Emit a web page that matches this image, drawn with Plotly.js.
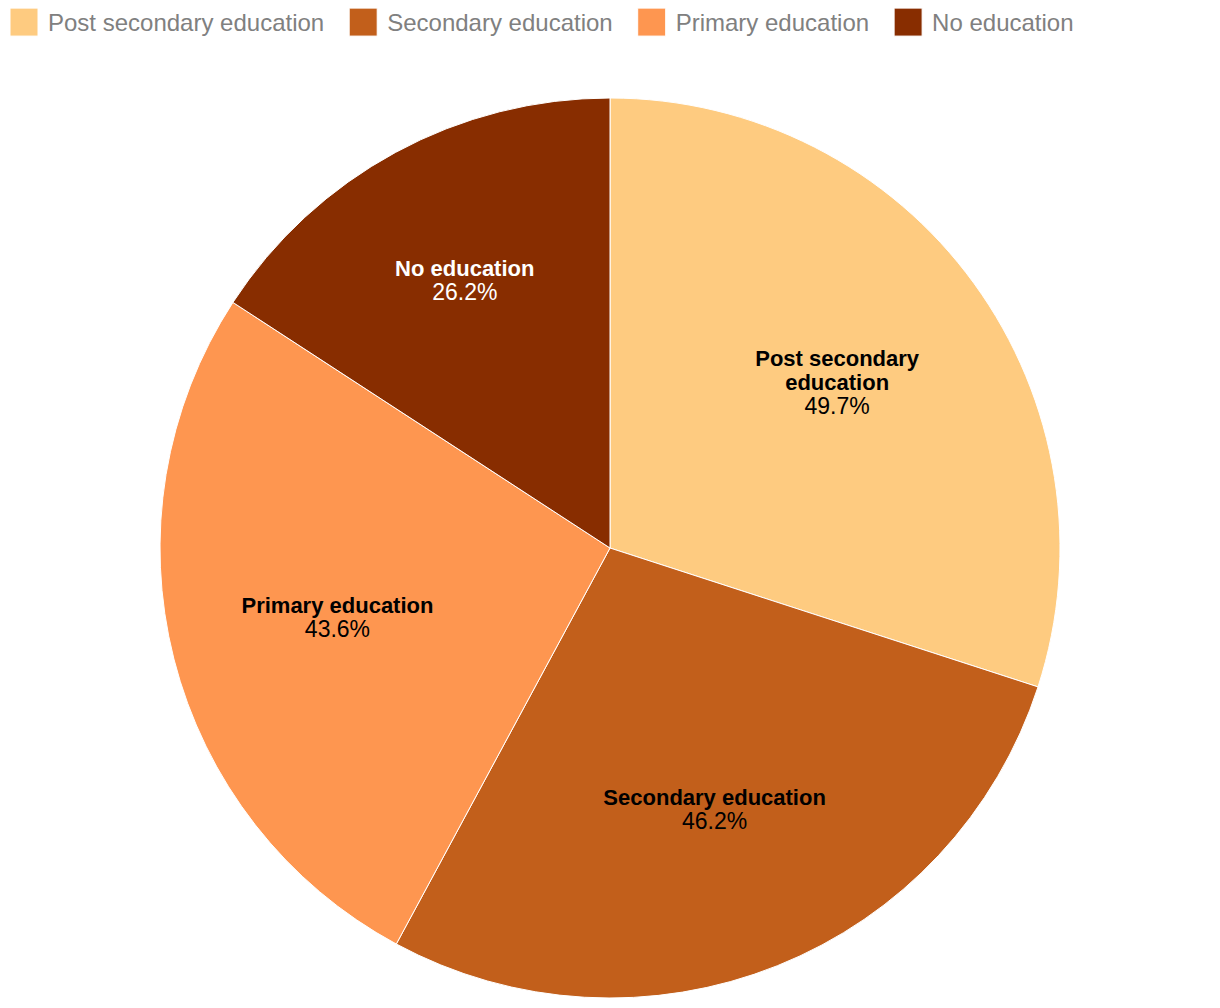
<!DOCTYPE html>
<html>
<head>
<meta charset="utf-8">
<script src="https://cdn.plot.ly/plotly-3.0.1.min.js"></script>
<style>html,body{margin:0;padding:0;background:#fff;overflow:hidden;}#chart{width:1230px;height:1008px;margin-left:-10px;}</style>
</head>
<body>
<div id="chart"></div>
<script>
const categories = ["Post secondary education", "Secondary education", "Primary education", "No education"];
const sliceLabels = ["Post secondary<br>education", "Secondary education", "Primary education", "No education"];
const values = [49.7, 46.2, 43.6, 26.2];
const colors = ["#FECB80", "#C25F1B", "#FE9650", "#882D00"];
const textColors = ["#000000", "#000000", "#000000", "#FFFFFF"];

const FONT = "Liberation Sans, Arial, Helvetica, sans-serif";

const pieTrace = {
  type: "pie",
  labels: categories,
  values: values,
  textinfo: "none",
  marker: {colors: colors, line: {color: "#ffffff", width: 1}},
  sort: false,
  direction: "clockwise",
  rotation: 0,
  hoverinfo: "none"
};

// transparent ring carrying the slice labels a little further out from the centre
const labelTrace = {
  type: "pie",
  labels: categories,
  values: values,
  text: sliceLabels,
  hole: 0.25,
  texttemplate: "<span style='font-size:22px'><b>%{text}</b></span><br><span style='font-size:23px'>%{value:.1f}%</span>",
  textposition: "inside",
  insidetextorientation: "horizontal",
  insidetextfont: {family: FONT, size: 18.5, color: textColors},
  marker: {colors: ["rgba(0,0,0,0)", "rgba(0,0,0,0)", "rgba(0,0,0,0)", "rgba(0,0,0,0)"], line: {width: 0}},
  sort: false,
  direction: "clockwise",
  rotation: 0,
  showlegend: false,
  hoverinfo: "none"
};

const layout = {
  width: 1230,
  height: 1008,
  margin: {l: 10, r: 0, t: 98, b: 10},
  paper_bgcolor: "#ffffff",
  showlegend: true,
  legend: {
    orientation: "h",
    xref: "container",
    x: 0, xanchor: "left",
    yref: "container",
    y: 1, yanchor: "top",
    itemwidth: 48,
    font: {family: FONT, size: 24, color: "#808080"},
    traceorder: "normal"
  },
  font: {family: FONT}
};

function styleLegend() {
  document.querySelectorAll("#chart .legend .legendpoints path.legendpie").forEach(function (p) {
    p.setAttribute("d", "M19,14H-9V-14H19Z");
  });
}

Plotly.newPlot("chart", [pieTrace, labelTrace], layout, {displayModeBar: false, staticPlot: true}).then(function (gd) {
  styleLegend();
  gd.on("plotly_afterplot", styleLegend);
});
</script>
</body>
</html>
